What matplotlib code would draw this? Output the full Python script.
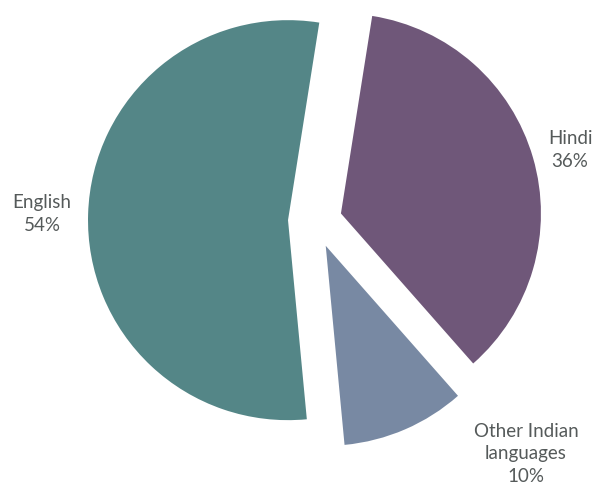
import matplotlib.pyplot as plt

languages = ["English", "Other Indian\nlanguages", "Hindi"]
shares = [54, 10, 36]
colors = ["#548687", "#7889a3", "#6f5779"]

fig = plt.figure(figsize=(5.96, 4.96), dpi=100)
ax = fig.add_axes([0, 0, 1, 1])

# 坐标按像素设置，explode 在 matplotlib 中是绝对偏移量
ax.pie(
    shares,
    colors=colors,
    startangle=81,
    counterclock=True,
    center=(315, 275),
    radius=200,
    explode=[27] * len(shares),
    frame=True,
    wedgeprops={"linewidth": 0},
)
ax.set_xlim(0, 596)
ax.set_ylim(0, 496)
ax.set_aspect("equal")
ax.axis("off")

label_pos = [(42, 282), (526, 42), (570, 346)]
for name, share, (x, y) in zip(languages, shares, label_pos):
    ax.text(x, y, f"{name}\n{share}%", ha="center", va="center",
            fontsize=13.5, color="#555a5a", family="Lato", linespacing=1.4)

fig.savefig("out.png", dpi=100)
